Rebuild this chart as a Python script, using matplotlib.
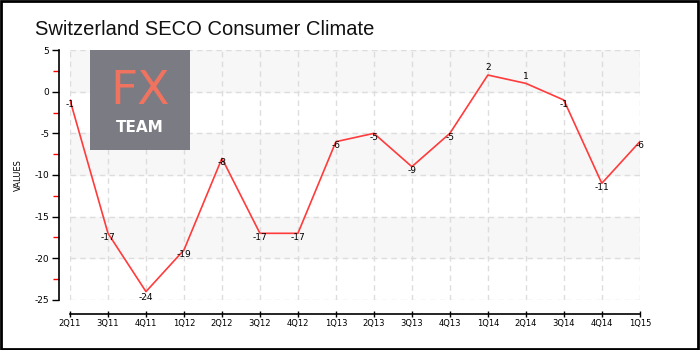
import numpy as np
import matplotlib.pyplot as plt
from matplotlib.patches import Rectangle

quarters = ['2Q11', '3Q11', '4Q11', '1Q12', '2Q12', '3Q12', '4Q12', '1Q13',
            '2Q13', '3Q13', '4Q13', '1Q14', '2Q14', '3Q14', '4Q14', '1Q15']
values = [-1, -17, -24, -19, -8, -17, -17, -6, -5, -9, -5, 2, 1, -1, -11, -6]
y_ticks = [5, 0, -5, -10, -15, -20, -25]
shaded_bands = [(0, 5), (-10, -5), (-20, -15)]

fig = plt.figure(figsize=(7, 3.5), dpi=100)
fig.patch.set_facecolor('white')

# rahmen um die ganze grafik
fig.patches.append(Rectangle((0.001, 0.004), 0.996, 0.993, transform=fig.transFigure,
                             fill=False, edgecolor='black', linewidth=2))

ax = fig.add_axes([0.1, 0.143, 0.814, 0.714])
x = np.arange(len(quarters))

for lo, hi in shaded_bands:
    ax.axhspan(lo, hi, color='#f7f7f7', zorder=0)

ax.grid(True, color='#dddddd', linestyle=(0, (4, 3)), linewidth=1)
ax.set_axisbelow(True)

ax.plot(x, values, color='#ff3b3b', linewidth=1.2, zorder=3)

# datenbeschriftung
vmin = min(values)
for i, v in enumerate(values):
    if v > 0:
        off, va = 2, 'bottom'
    elif v == vmin:
        off, va = -1, 'top'
    else:
        off, va = -3, 'center'
    ax.annotate(str(v), (i, v), xytext=(0, off), textcoords='offset points',
                ha='center', va=va, fontsize=6.5, color='black', zorder=4)

ax.set_xlim(0, len(quarters) - 1)
ax.set_ylim(-25, 5)
ax.set_xticks(x)
ax.set_xticklabels(quarters)
ax.set_yticks(y_ticks)
ax.set_yticklabels([str(t) for t in y_ticks])
ax.set_yticks(np.arange(-22.5, 5, 5), minor=True)
ax.tick_params(axis='y', which='minor', length=4, color='red', width=1)
ax.tick_params(axis='y', which='major', length=5, width=1, pad=2, labelsize=6.5)
ax.tick_params(axis='x', which='major', length=5, width=1, direction='inout',
               pad=1, labelsize=6)

for s in ['top', 'right']:
    ax.spines[s].set_visible(False)
ax.spines['left'].set_position(('outward', 8))
ax.spines['bottom'].set_position(('outward', 10))
ax.spines['left'].set_linewidth(1.2)
ax.spines['bottom'].set_linewidth(1.2)

ax.set_ylabel('VALUES', fontsize=6, labelpad=8)

fig.text(0.05, 0.915, 'Switzerland SECO Consumer Climate', fontsize=14.5,
         family=['Liberation Sans', 'DejaVu Sans'],
         color='#111111', ha='left', va='center')

# logo
logo = fig.add_axes([90 / 700, 1 - 150 / 350, 100 / 700, 100 / 350])
logo.set_facecolor('#7b7b83')
logo.set_xticks([])
logo.set_yticks([])
for s in logo.spines.values():
    s.set_visible(False)
logo.text(0.5, 0.58, 'FX', fontsize=34, color='#f0735f', ha='center', va='center',
          transform=logo.transAxes)
logo.text(0.5, 0.23, 'TEAM', fontsize=11, color='white', fontweight='bold',
          ha='center', va='center', transform=logo.transAxes)

plt.savefig('out.png', dpi=100)
